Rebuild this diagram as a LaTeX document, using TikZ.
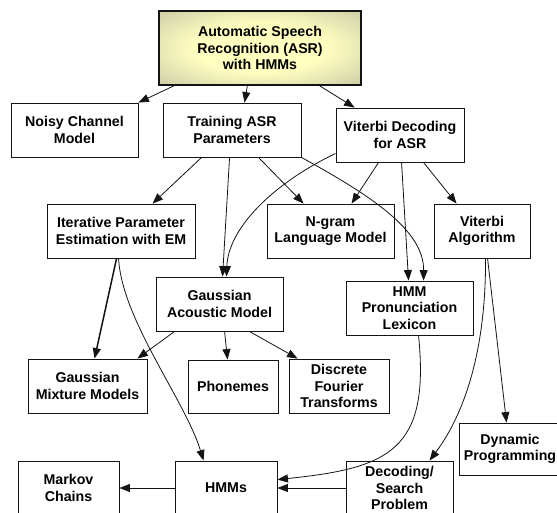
\documentclass[tikz,border=0pt]{standalone}
\usepackage{fontspec}
\setmainfont{Liberation Sans}
\usetikzlibrary{arrows.meta,calc}
\definecolor{asrIn}{RGB}{255,255,192}
\definecolor{asrOut}{RGB}{168,168,150}
\definecolor{edgecol}{RGB}{20,20,20}
\pgfdeclareradialshading{asrshade}{\pgfpoint{0bp}{0bp}}{color(0bp)=(asrIn); color(16bp)=(asrIn); color(50bp)=(asrOut); color(72bp)=(asrOut)}
\tikzset{
  box/.style={draw=edgecol, line width=0.9pt, inner sep=0pt, align=center,
    font=\fontsize{14.2}{16.3}\selectfont\bfseries, fill=white},
  topbox/.style={box, line width=1.2pt, shading=asrshade},
  conn/.style={draw=edgecol, line width=0.8pt, -{Triangle[length=10.5pt,width=8pt]}},
}
\begin{document}
\begin{tikzpicture}[x=1pt,y=-1pt]
\clip (0,0) rectangle (557,512);
\fill[white] (0,0) rectangle (557,512);

\node[topbox, minimum width=202pt, minimum height=74pt] (asr) at (260,48) {Automatic Speech\\Recognition (ASR)\\with HMMs};
\node[box, minimum width=127pt, minimum height=54pt] (noisy) at (74.5,130) {Noisy Channel\\Model};
\node[box, minimum width=138pt, minimum height=54pt] (train) at (232,130) {Training ASR\\Parameters};
\node[box, minimum width=128pt, minimum height=54pt] (vdec) at (400,135) {Viterbi Decoding\\for ASR};
\node[box, minimum width=148pt, minimum height=54pt] (iter) at (121,231) {Iterative Parameter\\Estimation with EM};
\node[box, minimum width=127pt, minimum height=54pt] (ngram) at (330.5,231) {N-gram\\Language Model};
\node[box, minimum width=96pt, minimum height=54pt] (valg) at (482,231) {Viterbi\\Algorithm};
\node[box, minimum width=127pt, minimum height=54pt] (gac) at (219.5,304) {Gaussian\\Acoustic Model};
\node[box, minimum width=127pt, minimum height=54pt] (hpl) at (409.5,308) {HMM\\Pronunciation\\Lexicon};
\node[box, minimum width=119pt, minimum height=54pt] (gmm) at (87.5,386) {Gaussian\\Mixture Models};
\node[box, minimum width=90pt, minimum height=53pt] (phon) at (233,386.5) {Phonemes};
\node[box, minimum width=100pt, minimum height=54pt] (dft) at (339,386) {Discrete\\Fourier\\Transforms};
\node[box, minimum width=102pt, minimum height=52pt] (dp) at (510,449) {Dynamic\\Programming};
\node[box, minimum width=101pt, minimum height=54pt] (markov) at (68.5,488) {Markov\\Chains};
\node[box, minimum width=102pt, minimum height=54pt] (hmms) at (226,488) {HMMs};
\node[box, minimum width=107pt, minimum height=54pt] (dec) at (399.5,488) {Decoding/\\Search\\Problem};

% from ASR
\draw[conn] ($(asr.south west)+(16,0)$) -- (noisy.north east);
\draw[conn] ($(asr.south west)+(89,0)$) -- ($(train.north west)+(82,0)$);
\draw[conn] ($(asr.south west)+(161,0)$) -- ($(vdec.north west)+(19,0)$);
% from Training
\draw[conn] ($(train.south west)+(39,0)$) -- ($(iter.north west)+(106,0)$);
\draw[conn] ($(train.south west)+(67,0)$) -- ($(gac.north west)+(67,0)$);
\draw[conn] ($(train.south west)+(96,0)$) -- ($(ngram.north west)+(37,0)$);
\draw[conn] (train.south east) .. controls (370,195) and (424,230) .. ($(hpl.north west)+(78,0)$);
% from Viterbi decoding
\draw[conn] ($(vdec.south west)+(0,-9)$) .. controls (270,185) and (228,230) .. ($(gac.north west)+(71,0)$);
\draw[conn] ($(vdec.south west)+(43,0)$) -- ($(ngram.north west)+(85,0)$);
\draw[conn] ($(vdec.south west)+(66,0)$) -- ($(hpl.north west)+(63,0)$);
\draw[conn] ($(vdec.south west)+(88,0)$) -- ($(valg.north west)+(23,0)$);
% from Iterative
\draw[conn, line width=1.5pt] ($(iter.south west)+(70,0)$) -- ($(gmm.north west)+(67,0)$);
\draw[conn] ($(iter.south west)+(72,0)$) .. controls (122,320) and (185,400) .. ($(hmms.north west)+(29,0)$);
% from Gaussian acoustic
\draw[conn] ($(gac.south west)+(19,0)$) -- ($(gmm.north east)+(-10,0)$);
\draw[conn] ($(gac.south west)+(69,0)$) -- ($(phon.north west)+(40,0)$);
\draw[conn] ($(gac.south west)+(94,0)$) -- ($(dft.north west)+(9,0)$);
% from HMM pronunciation
\draw[conn] ($(hpl.south west)+(73,0)$) .. controls (430,450) and (390,468) .. ($(hmms.north east)+(0,19)$);
% from Viterbi algorithm
\draw[conn] ($(valg.south west)+(52,0)$) .. controls (486,360) and (460,420) .. ($(dec.north west)+(84,0)$);
\draw[conn] ($(valg.south west)+(54,0)$) -- ($(dp.north west)+(48,0)$);
% bottom row
\draw[conn] (hmms.west) -- (markov.east);
\draw[conn] (dec.west) -- (hmms.east);
\end{tikzpicture}
\end{document}
